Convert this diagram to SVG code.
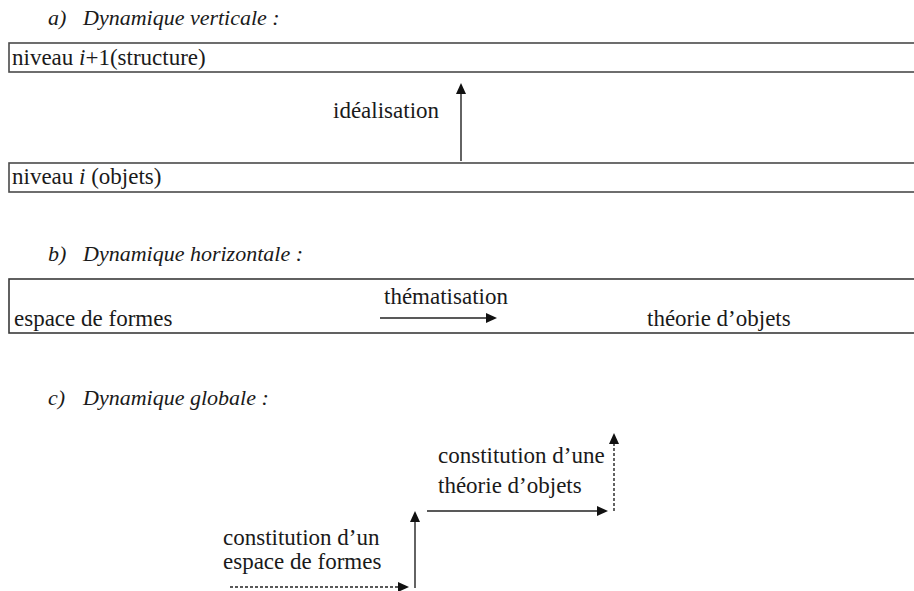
<svg xmlns="http://www.w3.org/2000/svg" width="914" height="591" viewBox="0 0 914 591">
<rect width="914" height="591" fill="#fff"/>
<g id="title-a"><text x="48" y="25" font-family="Liberation Serif" font-style="italic" font-size="22" fill="#1a1a1a">a)</text><text x="83" y="25" font-family="Liberation Serif" font-style="italic" font-size="22" fill="#1a1a1a">Dynamique verticale :</text></g>
<g id="niveau-i1"><rect x="9" y="43" width="920" height="29" fill="none" stroke="#4a4a4a" stroke-width="1.6"/><text x="12" y="65" font-family="Liberation Serif" font-size="23" fill="#1a1a1a">niveau <tspan font-style="italic">i</tspan>+1(structure)</text></g>
<g id="niveau-i"><rect x="9" y="163" width="920" height="29" fill="none" stroke="#4a4a4a" stroke-width="1.6"/><text x="12" y="184" font-family="Liberation Serif" font-size="23" fill="#1a1a1a">niveau <tspan font-style="italic">i</tspan> (objets)</text></g>
<g id="lbl-idealisation"><text x="333" y="118" font-family="Liberation Serif" font-size="23" fill="#1a1a1a">idéalisation</text></g>
<g id="title-b"><text x="48" y="261" font-family="Liberation Serif" font-style="italic" font-size="22" fill="#1a1a1a">b)</text><text x="83" y="261" font-family="Liberation Serif" font-style="italic" font-size="22" fill="#1a1a1a">Dynamique horizontale :</text></g>
<g id="box-b"><rect x="9" y="279" width="920" height="54" fill="none" stroke="#3a3a3a" stroke-width="1.6"/></g>
<g id="espace"><text x="14" y="326" font-family="Liberation Serif" font-size="23" fill="#1a1a1a">espace de formes</text></g>
<g id="lbl-thematisation"><text x="384" y="304" font-family="Liberation Serif" font-size="23" fill="#1a1a1a">thématisation</text></g>
<g id="theorie"><text x="647" y="326" font-family="Liberation Serif" font-size="23" fill="#1a1a1a">théorie d’objets</text></g>
<g id="title-c"><text x="48" y="405" font-family="Liberation Serif" font-style="italic" font-size="22" fill="#1a1a1a">c)</text><text x="83" y="405" font-family="Liberation Serif" font-style="italic" font-size="22" fill="#1a1a1a">Dynamique globale :</text></g>
<g id="lbl-const-une"><text x="438" y="463" font-family="Liberation Serif" font-size="23" fill="#1a1a1a">constitution d’une</text><text x="438" y="493" font-family="Liberation Serif" font-size="23" fill="#1a1a1a">théorie d’objets</text></g>
<g id="lbl-const-un"><text x="223" y="545" font-family="Liberation Serif" font-size="23" fill="#1a1a1a">constitution d’un</text><text x="223" y="569" font-family="Liberation Serif" font-size="23" fill="#1a1a1a">espace de formes</text></g>
<g id="connectors" stroke="#222" stroke-width="1.4">
<line x1="461" y1="161" x2="461" y2="92"/>
<polygon points="461,83 456,94 466,94" fill="#111" stroke="none"/>
<line x1="380" y1="318" x2="487" y2="318"/>
<polygon points="497,318 486,313 486,323" fill="#111" stroke="none"/>
<line x1="230" y1="587" x2="399" y2="587" stroke-dasharray="3,2"/>
<polygon points="409,587 398,582 398,592" fill="#111" stroke="none"/>
<line x1="415" y1="588" x2="415" y2="520"/>
<polygon points="415,511 410,522 420,522" fill="#111" stroke="none"/>
<line x1="427" y1="511" x2="598" y2="511"/>
<polygon points="608,511 597,506 597,516" fill="#111" stroke="none"/>
<line x1="614" y1="511" x2="614" y2="442" stroke-dasharray="3,2"/>
<polygon points="614,433 609,444 619,444" fill="#111" stroke="none"/>
</g>
</svg>
